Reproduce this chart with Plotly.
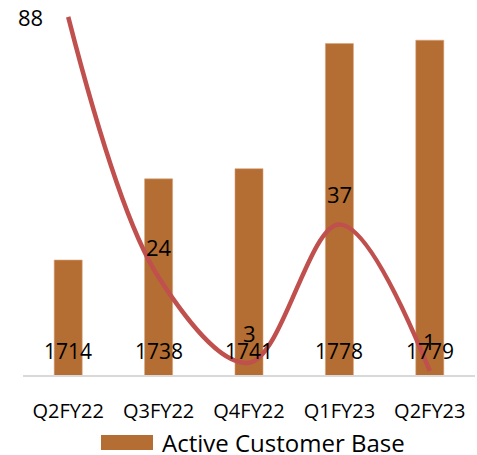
import plotly.graph_objects as go

categories = ["Q2FY22", "Q3FY22", "Q4FY22", "Q1FY23", "Q2FY23"]
customer_base = [1714, 1738, 1741, 1778, 1779]
line_values = [88, 24, 3, 37, 1]
legend_name = "Active Customer Base"

BAR_COLOR = "#B46D32"
LINE_COLOR = "#C0504D"
FONT = "Open Sans"
Y_MIN, Y_MAX = 1680, 1790

fig = go.Figure()
fig.add_trace(go.Bar(
    x=categories, y=customer_base, name=legend_name,
    marker=dict(color=BAR_COLOR, line=dict(color="#D9A47A", width=0.6)),
    width=0.31, showlegend=False,
))
fig.add_trace(go.Scatter(
    x=categories, y=line_values, yaxis="y2", mode="lines",
    line=dict(color=LINE_COLOR, width=4.5, shape="spline", smoothing=1.0),
    showlegend=False, cliponaxis=False,
))

annotations = []
# bar value labels at the base of each bar
for c, v in zip(categories, customer_base):
    annotations.append(dict(x=c, y=Y_MIN, xref="x", yref="y", text=str(v),
                            showarrow=False, yanchor="middle", yshift=24,
                            font=dict(family=FONT, size=21, color="black")))
# line value labels
for i, (c, v) in enumerate(zip(categories, line_values)):
    if i == 0:
        annotations.append(dict(x=c, y=v, xref="x", yref="y2", text=str(v),
                                showarrow=False, xshift=-38, yshift=0,
                                font=dict(family=FONT, size=22, color="black")))
    else:
        annotations.append(dict(x=c, y=v, xref="x", yref="y2", text=str(v),
                                showarrow=False, yshift=30,
                                font=dict(family=FONT, size=22, color="black")))

annotations.append(dict(x=0.303, y=-0.181, xref="paper", yref="paper",
                        text=legend_name, showarrow=False, xanchor="left",
                        yanchor="middle",
                        font=dict(family=FONT, size=24, color="black")))

fig.update_layout(
    width=477, height=455,
    margin=dict(l=23, r=2, t=3, b=80, autoexpand=False),
    paper_bgcolor="white", plot_bgcolor="white",
    font=dict(family=FONT, color="black"),
    xaxis=dict(showgrid=False, showline=True, linecolor="#D9D9D9", linewidth=2,
               ticks="", tickfont=dict(family=FONT, size=20, color="black"),
               ticklabelstandoff=17, automargin=False, range=[-0.5, 4.5]),
    yaxis=dict(range=[Y_MIN, Y_MAX], visible=False, showgrid=False, automargin=False),
    yaxis2=dict(range=[0, 91.4], overlaying="y", visible=False, showgrid=False,
                automargin=False),
    annotations=annotations,
    shapes=[dict(type="rect", xref="paper", yref="paper",
                 x0=0.1726, x1=0.2876, y0=-0.161, y1=-0.2016,
                 fillcolor=BAR_COLOR, line=dict(width=0))],
)

fig.write_html("out.html")
